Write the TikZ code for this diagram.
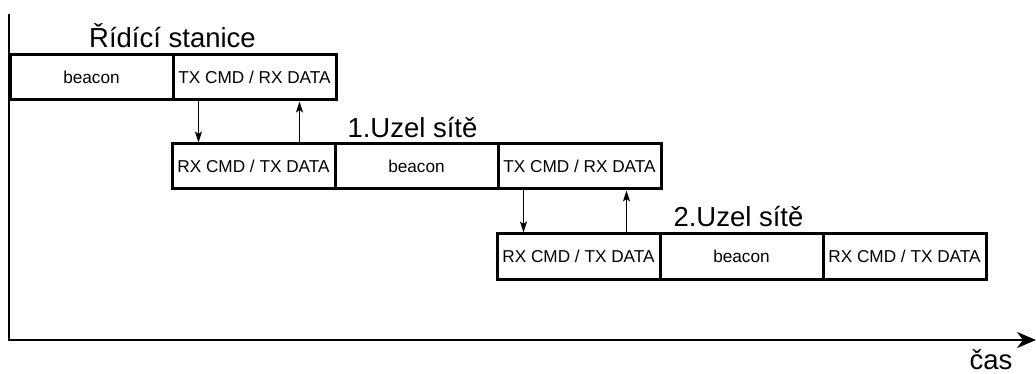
\documentclass[tikz,border=0pt]{standalone}
\usepackage{fontspec}
\setmainfont{Liberation Sans}
\usetikzlibrary{arrows.meta}
\begin{document}
\begin{tikzpicture}[x=1pt,y=-1pt,
  slot/.style={draw,line width=3pt,minimum width=163pt,minimum height=45pt,
    inner sep=0pt,font=\fontsize{17.2}{20}\selectfont},
  title/.style={font=\fontsize{27.5}{30}\selectfont,inner sep=0pt},
  msg/.style={line width=1.6pt,-{Stealth[length=11pt,width=7pt,inset=2.5pt]}},
  axis/.style={line width=2pt,-{Stealth[length=19pt,width=16pt,inset=6pt]}}]
\useasboundingbox (0,0) rectangle (1036,374);

% time axes
\coordinate (top) at (9,14);
\coordinate (origin) at (9,340);
\coordinate (tend) at (1036,340);
\draw[axis] (top) -- (origin) -- (tend);
\node[title,anchor=base] (t) at (991,369) {čas};

% control station
\node[slot] (s1) at (91.5,77.5) {beacon};
\node[slot] (s2) at (254.5,77.5) {TX CMD / RX DATA};
\node[title,anchor=base] (st) at (172.5,48) {Řídící stanice};

% first network node
\node[slot] (a1) at (253.5,166.5) {RX CMD / TX DATA};
\node[slot] (a2) at (416.5,166.5) {beacon};
\node[slot] (a3) at (579.5,166.5) {TX CMD / RX DATA};
\node[title,anchor=base] (at) at (412.5,138) {1.Uzel sítě};

% second network node
\node[slot] (b1) at (578.5,256.5) {RX CMD / TX DATA};
\node[slot] (b2) at (741.5,256.5) {beacon};
\node[slot] (b3) at (904.5,256.5) {RX CMD / TX DATA};
\node[title,anchor=base] (bt) at (738.5,227) {2.Uzel sítě};

% commands down, data up
\draw[msg] ([xshift=27pt]s2.south west) -- ([xshift=28pt]a1.north west);
\draw[msg] ([xshift=129pt]a1.north west) -- ([xshift=128pt]s2.south west);
\draw[msg] ([xshift=27pt]a3.south west) -- ([xshift=28pt]b1.north west);
\draw[msg] ([xshift=131pt]b1.north west) -- ([xshift=130pt]a3.south west);
\end{tikzpicture}
\end{document}
